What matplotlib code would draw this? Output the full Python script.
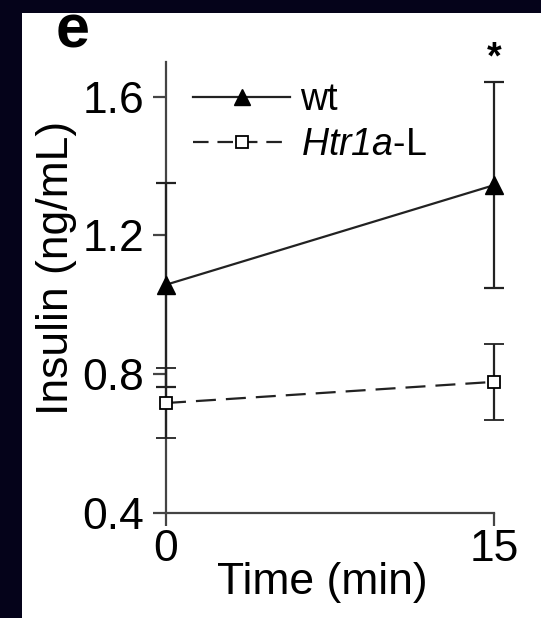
import numpy as np
import matplotlib
matplotlib.use("Agg")
import matplotlib.pyplot as plt
from matplotlib.lines import Line2D
from matplotlib.patches import Rectangle

# data
time_min = [0, 15]
wt_mean = [1.058, 1.345]
wt_sem = [0.294, 0.296]
htr_mean = [0.717, 0.778]
htr_sem = [0.101, 0.110]

plt.rcParams['font.family'] = ['Liberation Sans', 'DejaVu Sans']
# mathtext only used for the italic gene name (digits go through 'rm')
plt.rcParams['mathtext.fontset'] = 'custom'
plt.rcParams['mathtext.it'] = 'Liberation Sans:italic'
plt.rcParams['mathtext.rm'] = 'Liberation Sans:italic'

fig = plt.figure(figsize=(5.41, 6.18), dpi=100)
fig.patch.set_facecolor('#05031a')
# white panel inside the dark frame
fig.add_artist(Rectangle((22 / 541, 0), 1 - 22 / 541, 1 - 13 / 618,
                         transform=fig.transFigure, facecolor='white',
                         edgecolor='none', zorder=0))

ax = fig.add_axes([166 / 541, 1 - 513 / 618, 328 / 541, 451 / 618])
ax.set_facecolor('none')

line_col = '#222222'
dash = (0, (9, 4.5))
ax.errorbar(time_min, wt_mean, yerr=wt_sem, color=line_col, lw=1.6,
            marker='^', ms=13, mfc='black', mec='black', capsize=7,
            capthick=1.6, elinewidth=1.6, clip_on=False, zorder=3)
ax.errorbar(time_min, htr_mean, yerr=htr_sem, color=line_col, lw=1.6,
            ls=dash, marker='s', ms=9, mfc='white', mec='black',
            mew=1.3, capsize=7, capthick=1.6, elinewidth=1.6,
            clip_on=False, zorder=3)

# significance mark
ax.annotate('*', xy=(time_min[1], wt_mean[1] + wt_sem[1]), xytext=(0, 4),
            textcoords='offset points', ha='center', va='bottom',
            fontsize=27, fontweight='bold')

ax.set_xlim(0, 15)
ax.set_ylim(0.4, 1.7)
ax.set_xticks([0, 15])
ax.set_yticks([0.4, 0.8, 1.2, 1.6])
ax.set_yticklabels(['0.4', '0.8', '1.2', '1.6'])
for s in ['top', 'right']:
    ax.spines[s].set_visible(False)
for s in ['left', 'bottom']:
    ax.spines[s].set_color('#444444')
    ax.spines[s].set_linewidth(1.6)
ax.tick_params(direction='out', length=9.5, width=1.6, color='#444444',
               labelsize=32)
ax.tick_params(axis='y', pad=6)
ax.tick_params(axis='x', pad=2)

ax.set_xlabel('Time (min)', fontsize=32)
ax.xaxis.set_label_coords(0.476, -0.108)
ax.xaxis.label.set_va('top')
ax.set_ylabel('Insulin (ng/mL)', fontsize=32, va='center')
ax.yaxis.set_label_coords(-0.335, 0.543)

handles = [
    Line2D([], [], color=line_col, lw=1.6, marker='^', ms=11,
           mfc='black', mec='black'),
    Line2D([], [], color=line_col, lw=1.6, ls=(0, (7, 4)), marker='s',
           ms=8, mfc='white', mec='black', mew=1.3),
]
ax.legend(handles, ['wt', r'$\mathrm{Htr1a}$-L'], loc='upper left',
          bbox_to_anchor=(0.082, 0.955), frameon=False, fontsize=27,
          handlelength=2.6, handletextpad=0.27, labelspacing=0.23,
          borderpad=0, borderaxespad=0)

fig.text(56 / 541, 1 - 32 / 618, 'e', fontsize=44, fontweight='bold',
         ha='left', va='center')

fig.savefig('out.png', dpi=100, facecolor=fig.get_facecolor())
